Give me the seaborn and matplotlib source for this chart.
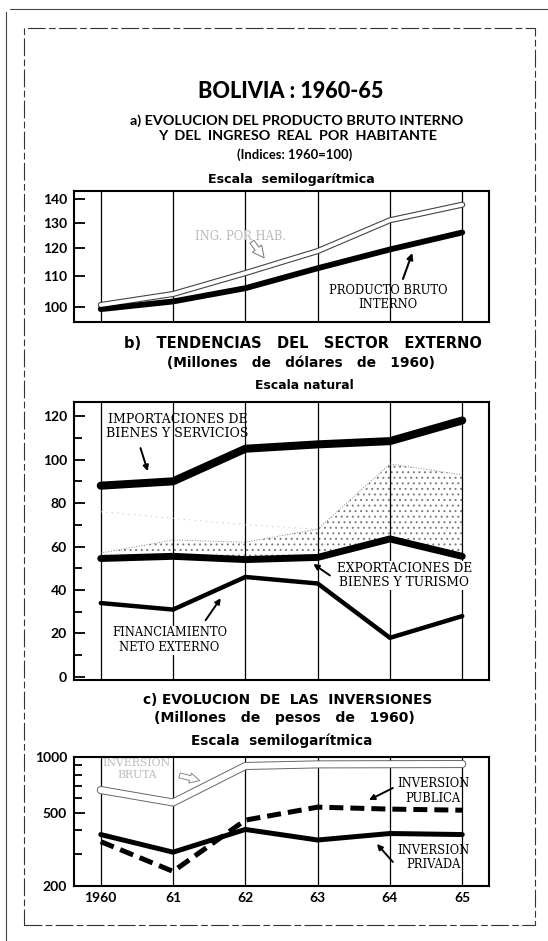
import seaborn as sns
import pandas as pd
import matplotlib.pyplot as plt
from matplotlib.lines import Line2D
from matplotlib.patches import Rectangle
from matplotlib.ticker import FixedLocator, NullFormatter, NullLocator, MultipleLocator

# %%
years = [1960, 1961, 1962, 1963, 1964, 1965]
year_labels = ['1960', '61', '62', '63', '64', '65']

# a) indices 1960=100 (semilog)
pbi = [99.3, 101.7, 106.0, 112.8, 119.6, 126.1]
ingreso = [100.6, 104.1, 111.1, 119.0, 131.0, 137.5]

# b) millones de dolares de 1960
importaciones = [88, 90, 105, 107, 108.5, 118]
exportaciones = [54.5, 55.5, 54, 55, 63.5, 55.5]
financiamiento = [34, 31, 46, 43, 18, 28]
punteado_sup = [57, 63, 62, 68, 98, 93]
punteado_tenue = [76, 73, 70, 68]

# c) millones de pesos de 1960 (semilog)
inv_bruta = [662, 567, 894, 912, 914, 916]
inv_publica = [348, 240, 455, 535, 522, 515]
inv_privada = [380, 305, 405, 355, 385, 380]

a_ticks = [100, 110, 120, 130, 140]
b_ticks = [0, 20, 40, 60, 80, 100, 120]
c_ticks = [200, 500, 1000]
c_minor = [300, 400, 600, 700, 800, 900]

# %%
sns.set_theme(style='white')
plt.rcParams['font.family'] = ['Lato', 'DejaVu Sans']
plt.rcParams['hatch.linewidth'] = 0.7
for k in ['text.color', 'axes.labelcolor', 'xtick.color', 'ytick.color']:
    plt.rcParams[k] = 'black'
LATO = ['Lato', 'DejaVu Sans']
SANS = ['DejaVu Sans']
SERIF = ['DejaVu Serif']

W, H = 548, 941
fig = plt.figure(figsize=(W / 100, H / 100), dpi=100)


def add_panel(top, bottom):
    return fig.add_axes([74 / W, 1 - bottom / H, (489 - 74) / W, (bottom - top) / H])


def ftext(x, y, s, size, family=SANS, weight='bold'):
    fig.text(x / W, 1 - y / H, s, ha='center', va='center', fontsize=size, fontweight=weight, family=family)


ax_a = add_panel(191, 322)
ax_b = add_panel(402, 680)
ax_c = add_panel(757, 886)

# titles
ftext(291, 91, 'BOLIVIA : 1960-65', 15.6, family=LATO, weight='black')
ftext(297, 121, 'a) EVOLUCION DEL PRODUCTO BRUTO INTERNO', 10.4, family=LATO)
ftext(298, 136, 'Y  DEL  INGRESO  REAL  POR  HABITANTE', 10.4, family=LATO)
ftext(295, 155, '(Indices: 1960=100)', 9.4, family=LATO)
ftext(291, 180, 'Escala  semilogarítmica', 9.1)
ftext(303, 344, 'b)   TENDENCIAS   DEL   SECTOR   EXTERNO', 10.5)
ftext(301, 363, '(Millones   de   dólares   de   1960)', 9.9)
ftext(304, 386, 'Escala natural', 8.9)
ftext(288, 700, 'c) EVOLUCION  DE  LAS  INVERSIONES', 9.8)
ftext(284, 718, '(Millones   de   pesos   de   1960)', 10.1)
ftext(282, 741, 'Escala  semilogarítmica', 9.8)

# %%
for ax in [ax_a, ax_b, ax_c]:
    ax.set_xlim(1959.63, 1965.37)
    for x in years:
        ax.axvline(x, color='black', lw=0.9, zorder=1)
    for s in ax.spines.values():
        s.set_linewidth(1.5)
        s.set_color('black')
    ax.set_xticks(years)
    ax.tick_params(axis='x', length=0)
    ax.tick_params(axis='y', which='both', direction='in', left=True, width=1.3, pad=5, colors='black')
    ax.tick_params(axis='y', which='major', length=8)
    ax.tick_params(axis='y', which='minor', length=6)

# a) PBI e ingreso
ax_a.set_yscale('log')
sns.lineplot(x=years, y=ingreso, ax=ax_a, color='#444444', lw=4.4, solid_capstyle='round', zorder=3)
sns.lineplot(x=years, y=ingreso, ax=ax_a, color='white', lw=2.8, solid_capstyle='round', zorder=3.1)
sns.lineplot(x=years, y=pbi, ax=ax_a, color='black', lw=4.2, solid_capstyle='round', zorder=3)
ax_a.set_ylim(95.4, 143.5)
ax_a.set_yticks(a_ticks, labels=[str(t) for t in a_ticks], fontsize=10, fontweight='bold')
ax_a.yaxis.set_minor_locator(NullLocator())
ax_a.set_xticklabels([])

ax_a.text(1963.97, 102.9, 'PRODUCTO BRUTO\nINTERNO', ha='center', va='center', family=SERIF, fontsize=8.3, linespacing=1.15)
ax_a.annotate('', xy=(1964.31, 118.3), xytext=(1964.18, 109.1),
              arrowprops=dict(arrowstyle='-|>', color='black', lw=1.5, mutation_scale=9, shrinkA=0, shrinkB=0))
ax_a.text(1961.93, 124.7, 'ING. POR HAB.', ha='center', va='center', family=SERIF, fontsize=8.3, color='#bbbbbb')
ax_a.annotate('', xy=(1962.26, 116.5), xytext=(1962.09, 122.5),
              arrowprops=dict(arrowstyle='simple,head_width=0.7,head_length=0.7,tail_width=0.3',
                              fc='white', ec='#777777', lw=0.7, shrinkA=0, shrinkB=0))

# b) sector externo
ax_b.fill_between(years, exportaciones, punteado_sup, facecolor='white', edgecolor='#7a7a7a',
                  hatch='...', lw=0, zorder=0.8)
sns.lineplot(x=years, y=punteado_sup, ax=ax_b, color='#888888', lw=0.7, ls=':', zorder=2)
sns.lineplot(x=years[:4], y=punteado_tenue, ax=ax_b, color='#c4c4c4', lw=0.8, ls=(0, (1, 4)), zorder=2)
sns.lineplot(x=years, y=importaciones, ax=ax_b, color='black', lw=5.8, zorder=3)
sns.lineplot(x=years, y=exportaciones, ax=ax_b, color='black', lw=5, zorder=3)
sns.lineplot(x=years, y=financiamiento, ax=ax_b, color='black', lw=3.2, zorder=3)
ax_b.set_ylim(-1.4, 126.5)
ax_b.set_yticks(b_ticks, labels=[str(t) for t in b_ticks], fontsize=10, fontweight='bold')
ax_b.yaxis.set_minor_locator(MultipleLocator(10))
ax_b.set_xticklabels([])

arrow = dict(arrowstyle='-|>', color='black', lw=1.4, mutation_scale=8, shrinkA=0, shrinkB=0)
ax_b.text(1961.06, 115.1, 'IMPORTACIONES DE\nBIENES Y SERVICIOS', ha='center', va='center', family=SERIF, fontsize=9, linespacing=1.1)
ax_b.annotate('', xy=(1960.65, 94.7), xytext=(1960.55, 105.3), arrowprops=arrow)
ax_b.text(1964.2, 46.7, 'EXPORTACIONES DE\nBIENES Y TURISMO', ha='center', va='center', family=SERIF, fontsize=8.8, linespacing=1.1,
          bbox=dict(fc='white', ec='none', pad=0.5))
ax_b.annotate('', xy=(1962.94, 52), xytext=(1963.17, 46.7), arrowprops=arrow)
ax_b.text(1960.95, 16.9, 'FINANCIAMIENTO\nNETO EXTERNO', ha='center', va='center', family=SERIF, fontsize=8.3, linespacing=1.15,
          bbox=dict(fc='white', ec='none', pad=0.5))
ax_b.annotate('', xy=(1961.66, 36.2), xytext=(1961.45, 26.1), arrowprops=arrow)

# c) inversiones
ax_c.set_yscale('log')
sns.lineplot(x=years, y=inv_bruta, ax=ax_c, color='#666666', lw=5.8, solid_capstyle='round', zorder=2)
sns.lineplot(x=years, y=inv_bruta, ax=ax_c, color='white', lw=4.4, solid_capstyle='round', zorder=2.1)
sns.lineplot(x=years, y=inv_privada, ax=ax_c, color='black', lw=3.6, zorder=3)
sns.lineplot(x=years, y=inv_publica, ax=ax_c, color='black', lw=3.6, ls=(0, (2.8, 1.4)), zorder=3)
ax_c.set_ylim(200, 1000)
ax_c.set_yticks(c_ticks, labels=[str(t) for t in c_ticks], fontsize=10, fontweight='bold')
ax_c.yaxis.set_minor_locator(FixedLocator(c_minor))
ax_c.yaxis.set_minor_formatter(NullFormatter())
ax_c.set_xticks(years, labels=year_labels, fontsize=10, fontweight='bold')
ax_c.tick_params(axis='x', pad=4)

ax_c.text(1960.5, 860, 'INVERSION\nBRUTA', ha='center', va='center', family=SERIF, fontsize=7.8, color='#bbbbbb', linespacing=1.15)
ax_c.annotate('', xy=(1961.37, 745), xytext=(1961.09, 795),
              arrowprops=dict(arrowstyle='simple,head_width=0.6,head_length=0.6,tail_width=0.3',
                              fc='white', ec='#888888', lw=0.7, shrinkA=0, shrinkB=0))
ax_c.text(1964.6, 655, 'INVERSION\nPUBLICA', ha='center', va='center', family=SERIF, fontsize=8.3, linespacing=1.15)
ax_c.annotate('', xy=(1963.71, 585), xytext=(1964.04, 679), arrowprops=arrow)
ax_c.text(1964.6, 286, 'INVERSION\nPRIVADA', ha='center', va='center', family=SERIF, fontsize=8.3, linespacing=1.15)
ax_c.annotate('', xy=(1963.82, 338), xytext=(1964.04, 270), arrowprops=arrow)

for ax in [ax_a, ax_b, ax_c]:
    ax.set(xlabel='', ylabel='')

# page frame
fig.add_artist(Rectangle((24 / W, 1 - 925 / H), (535 - 24) / W, (925 - 28) / H, transform=fig.transFigure,
                         fill=False, ec='#333333', lw=0.8, ls=(0, (16, 3, 6, 3))))
fig.add_artist(Line2D([6 / W, 6 / W], [0, 1 - 12 / H], transform=fig.transFigure, color='#444444', lw=0.8))
fig.add_artist(Line2D([10 / W, 1], [1 - 9 / H, 1 - 9 / H], transform=fig.transFigure, color='#444444', lw=0.8))

fig.savefig('out.png', dpi=100, facecolor='white')
